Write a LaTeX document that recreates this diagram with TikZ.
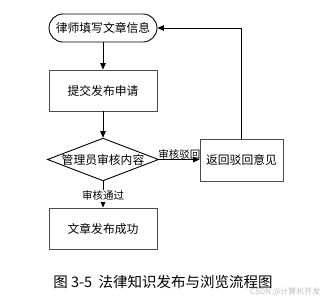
\documentclass[tikz,border=0pt]{standalone}
\usepackage{fontspec}
\setmainfont{Noto Sans CJK SC}
\usetikzlibrary{arrows.meta,shapes.geometric}

\begin{document}
\begin{tikzpicture}[x=1pt,y=-1pt,
    box/.style={draw=black!70,line width=0.9pt,minimum width=108pt,minimum height=41pt,inner sep=0pt,font=\fontsize{11.8}{13}\selectfont},
    link/.style={draw,line width=0.8pt,-{Triangle[length=6.5pt,width=5.5pt]}},
    tag/.style={font=\fontsize{10.5}{12}\selectfont,inner sep=1pt}]
            \useasboundingbox (0,0) rectangle (326,303);

            \node[box,rounded corners=14pt,minimum height=28pt,draw=black] (start) at (103,28) {律师填写文章信息};
            \node[box] (submit) at (103,90.5) {提交发布申请};
            \node[box,diamond,aspect=2.6,minimum width=107pt,minimum height=41pt,draw=black] (check) at (103,159.5) {管理员审核内容};
            \node[box,minimum width=83pt,minimum height=42pt] (back) at (241.5,160) {返回驳回意见};
            \node[box] (done) at (103,228.5) {文章发布成功};

            \coordinate (corner) at (241.5,28);

            \draw[link] (start)--(submit);
            \draw[link] (submit)--(check);
            \draw[link] (check.south)--(done.north) node[tag,fill=white,pos=0.55] {审核通过};
            \draw[link] (check.east)--(back.west |- check.east) node[tag,midway,above,yshift=-1pt] {审核驳回};
            \draw[link] (back.north)--(corner)--(start.east);

            \node[font=\fontsize{14.5}{16}\selectfont] (caption) at (163,282) {图 3-5\ \ 法律知识发布与浏览流程图};
            \node[font=\fontsize{8}{10}\selectfont,text=black!25,anchor=east] (mark) at (324,292) {CSDN @计算机开发};
        \end{tikzpicture}
\end{document}
